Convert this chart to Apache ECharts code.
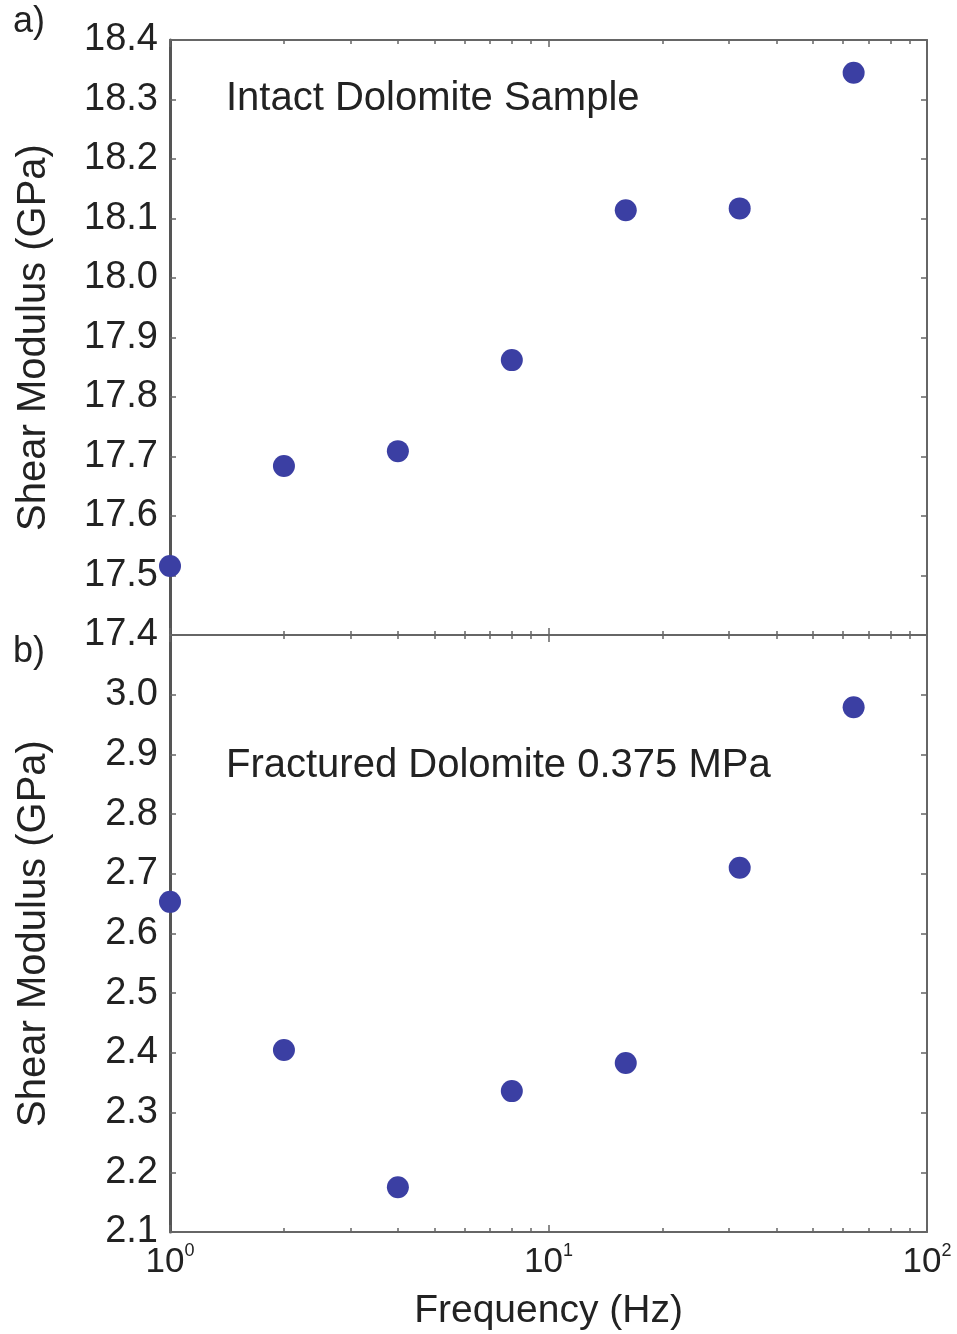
<!DOCTYPE html>
<html><head><meta charset="utf-8">
<script src="https://cdn.jsdelivr.net/npm/echarts@6/dist/echarts.min.js"></script>
<style>html,body{margin:0;padding:0;background:#fff}#c{width:957px;height:1334px}</style>
</head><body><div id="c"></div>
<script>
const frequencies = [1, 2, 4, 8, 16, 32, 64];
const intactModulus = [17.516, 17.684, 17.709, 17.862, 18.114, 18.117, 18.345];
const fracturedModulus = [2.653, 2.405, 2.175, 2.336, 2.383, 2.710, 2.979];
const majorTicks = [1, 10, 100];
const minorTicks = [2,3,4,5,6,7,8,9,20,30,40,50,60,70,80,90];
const panelTitles = ['Intact Dolomite Sample', 'Fractured Dolomite 0.375 MPa'];
const panelLetters = ['a)', 'b)'];

const FONT = 'Liberation Sans, Arial, sans-serif';
const TXT = '#222';
const AX = '#666';
const DOT = '#3b3fa3';

const grids = [
  {left:170, top:40, width:757, height:595},
  {left:170, top:635, width:757, height:597}
];

function xAxes(gi, showLabels) {
  const base = {
    type:'log', gridIndex:gi, min:1, max:100, logBase:10,
    splitLine:{show:false}, minorTick:{show:false}, minorSplitLine:{show:false}
  };
  const res = [];
  ['bottom','top'].forEach(pos => {
    res.push(Object.assign({}, base, {
      position:pos,
      axisLine:{show:true, onZero:false, lineStyle:{color:AX, width:2}},
      axisTick:{show:true, inside:true, length:7, lineStyle:{color:AX, width:1.5}, customValues: majorTicks},
      axisLabel:{show: showLabels && pos==='bottom', margin:10, fontFamily:FONT, color:TXT,
        customValues: majorTicks,
        formatter: v => '{a|10}{b|' + Math.round(Math.log10(v)) + '}',
        rich:{a:{fontSize:35, fontFamily:FONT, color:TXT}, b:{fontSize:18, fontFamily:FONT, color:TXT, verticalAlign:'top', lineHeight:40}}
      },
      name: (showLabels && pos==='bottom') ? 'Frequency (Hz)' : '',
      nameLocation:'middle', nameGap:60,
      nameTextStyle:{fontSize:39, fontFamily:FONT, color:TXT}
    }));
    res.push(Object.assign({}, base, {
      position:pos,
      axisLine:{show:false},
      axisTick:{show:true, inside:true, length:4, lineStyle:{color:AX, width:1.5}, customValues: minorTicks},
      axisLabel:{show:false}
    }));
  });
  return res;
}

function yAxes(gi, min, max, name, hideTop) {
  const fmt = v => (hideTop && v > max - 0.05) ? '' : v.toFixed(1);
  return [
    {type:'value', gridIndex:gi, min:min, max:max, interval:0.1, position:'left',
     axisLine:{show:true, onZero:false, lineStyle:{color:'#555', width:3}},
     axisTick:{show:true, inside:true, length:6, lineStyle:{color:AX, width:1.5}},
     axisLabel:{margin:12, fontSize:38, fontFamily:FONT, color:TXT, formatter:fmt},
     splitLine:{show:false},
     name:name, nameLocation:'middle', nameGap:116, nameRotate:90,
     nameTextStyle:{fontSize:40, fontFamily:FONT, color:TXT}},
    {type:'value', gridIndex:gi, min:min, max:max, interval:0.1, position:'right',
     axisLine:{show:true, onZero:false, lineStyle:{color:AX, width:2}},
     axisTick:{show:true, inside:true, length:6, lineStyle:{color:AX, width:1.5}},
     axisLabel:{show:false}, splitLine:{show:false}}
  ];
}

const xa = xAxes(0, false).concat(xAxes(1, true));
const ya = yAxes(0, 17.4, 18.4, 'Shear Modulus (GPa)', false).concat(yAxes(1, 2.1, 3.1, 'Shear Modulus (GPa)', true));

const option = {
  animation:false,
  backgroundColor:'#fff',
  grid: grids,
  xAxis: xa,
  yAxis: ya,
  series: [
    {type:'scatter', xAxisIndex:0, yAxisIndex:0, symbolSize:22, clip:false,
     itemStyle:{color:DOT, opacity:1}, data: frequencies.map((f,i)=>[f, intactModulus[i]])},
    {type:'scatter', xAxisIndex:4, yAxisIndex:2, symbolSize:22, clip:false,
     itemStyle:{color:DOT, opacity:1}, data: frequencies.map((f,i)=>[f, fracturedModulus[i]])}
  ],
  graphic: [
    {type:'text', left:226, top:79, style:{text:panelTitles[0], fontSize:40, fontFamily:FONT, fill:TXT}},
    {type:'text', left:226, top:746, style:{text:panelTitles[1], fontSize:40, fontFamily:FONT, fill:TXT}},
    {type:'text', left:13, top:4, style:{text:panelLetters[0], fontSize:36, fontFamily:FONT, fill:TXT}},
    {type:'text', left:13, top:634, style:{text:panelLetters[1], fontSize:36, fontFamily:FONT, fill:TXT}}
  ]
};
echarts.init(document.getElementById('c')).setOption(option);
</script></body></html>
